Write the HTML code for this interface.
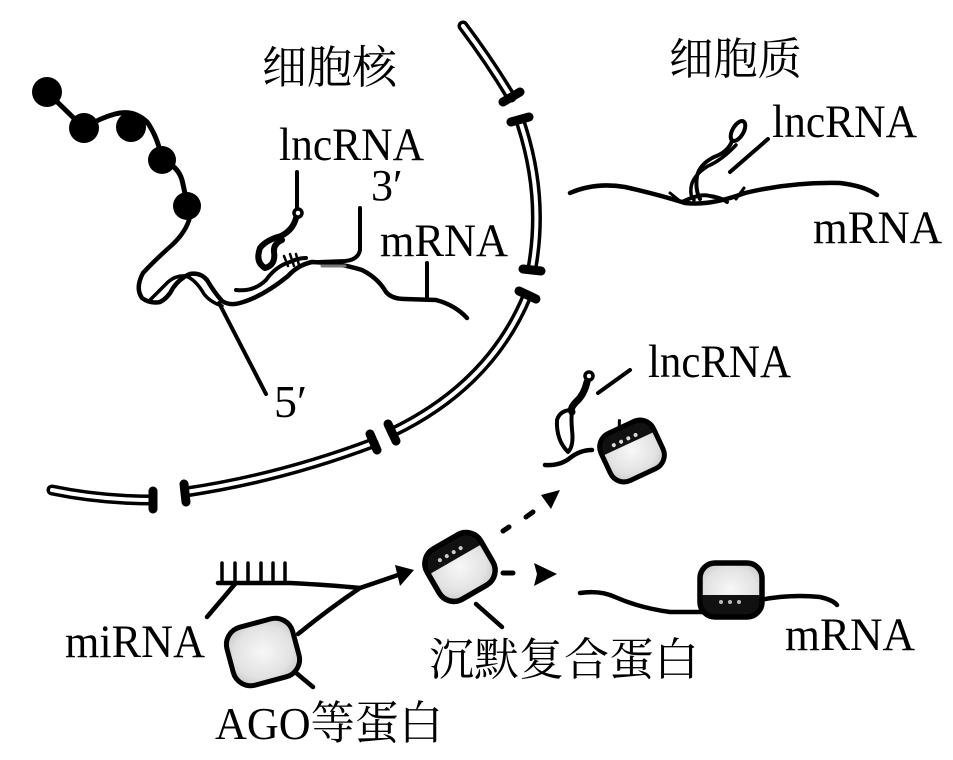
<!DOCTYPE html>
<html><head><meta charset="utf-8"><style>
html,body{margin:0;padding:0;background:#fff;}
svg{display:block;}
.lat{font-family:"Liberation Serif","Noto Serif CJK SC",serif;fill:#000;}
.cjk{font-family:"Noto Serif CJK SC","Liberation Serif","Noto Sans CJK SC",serif;fill:#000;}
.cjk2{font-family:"Liberation Serif","Noto Serif CJK SC","Noto Sans CJK SC",serif;fill:#000;}
</style></head><body>
<svg width="953" height="760" viewBox="0 0 953 760" xmlns="http://www.w3.org/2000/svg">
<defs>
<radialGradient id="g1" cx="50%" cy="50%" r="60%">
<stop offset="0" stop-color="#f7f7f7"/><stop offset="0.7" stop-color="#e2e2e2"/><stop offset="1" stop-color="#c9c9c9"/>
</radialGradient>
<clipPath id="cA"><rect x="-31" y="-29" width="62" height="58" rx="17"/></clipPath>
<clipPath id="cB"><rect x="-29" y="-26" width="58" height="52" rx="15"/></clipPath>
<clipPath id="cC"><rect x="-31" y="-27" width="62" height="54" rx="15"/></clipPath>
</defs>

<!-- Membrane tubes -->
<g fill="none" stroke-linecap="round">
  <g stroke="#000" stroke-width="11">
    <path d="M463,26 Q490,62 511,97"/>
    <path d="M520,121 Q545,195 532,268"/>
    <path d="M527,296 Q490,385 393,432"/>
    <path d="M373,443 Q280,478 186,492"/>
    <path d="M52,490 Q100,500 152,500"/>
  </g>
  <g stroke="#fff" stroke-width="4">
    <path d="M463,26 Q490,62 511,97"/>
    <path d="M520,121 Q545,195 532,268"/>
    <path d="M527,296 Q490,385 393,432"/>
    <path d="M373,443 Q280,478 186,492"/>
    <path d="M52,490 Q100,500 152,500"/>
  </g>
  <g stroke="#000" stroke-width="9">
    <line x1="503" y1="102" x2="520" y2="92"/>
    <line x1="511" y1="122" x2="529" y2="117"/>
    <line x1="523" y1="269" x2="541" y2="271"/>
    <line x1="519" y1="291" x2="536" y2="299"/>
    <line x1="388" y1="424" x2="396" y2="441"/>
    <line x1="370" y1="434" x2="377" y2="450"/>
    <line x1="184" y1="484" x2="186" y2="502"/>
    <line x1="153" y1="491" x2="153" y2="509"/>
  </g>
</g>

<!-- Chromatin beads -->
<g fill="#000">
  <circle cx="47" cy="92" r="15"/>
  <circle cx="84" cy="128" r="15"/>
  <circle cx="131" cy="127" r="15"/>
  <circle cx="162" cy="160" r="14"/>
  <circle cx="187" cy="206" r="14"/>
</g>
<g fill="none" stroke="#000" stroke-width="5" stroke-linecap="round" stroke-linejoin="round">
  <path d="M47,92 L84,128 Q100,118 115,114 Q133,109 147,122 Q158,137 162,160 Q178,166 182,180 Q185,192 187,206"/>
  <path d="M190,217 Q186,232 172,245 Q155,260 143,273 Q135,288 142,298 Q150,304 160,302 Q168,298 173,288 Q180,278 190,274 Q200,272 207,280 Q214,292 222,301 Q230,306 240,303 Q262,297 288,276 Q298,265 312,262 Q340,263 362,270 Q378,278 386,292 Q392,299 405,299 L436,300 Q455,305 467,318" stroke-width="4.5"/>
  <path d="M150,300 Q160,290 168,282 Q176,275 186,276 Q196,280 204,294 Q210,302 222,306" stroke-width="3.5"/>
  <!-- nucleus lncRNA -->
  <line x1="297" y1="172" x2="297" y2="208" stroke-width="4"/>
  <circle cx="298" cy="213" r="4" stroke-width="3.5"/>
  <path d="M296,218 Q293,230 281,236 Q266,240 260,248 Q255,262 265,268 Q276,265 274,252 Q273,244 282,240" stroke-width="6"/>
  <path d="M236,290 Q254,292 266,280 Q276,266 290,262 Q298,258 306,258" stroke-width="4"/>
  <path d="M284,256 L288,266 M290,254 L294,266 M296,254 L299,265" stroke-width="2.5"/>
  <!-- 3' bracket -->
  <path d="M360,208 L360,250 Q358,260 345,261 L318,262" stroke-width="4"/>
  <path d="M322,266 L345,266" stroke="#777" stroke-width="3"/>
  <line x1="427" y1="263" x2="427" y2="298" stroke-width="4"/>
  <line x1="219" y1="303" x2="266" y2="394" stroke-width="4"/>
</g>

<!-- Cytoplasm top-right -->
<g fill="none" stroke="#000" stroke-width="4.5" stroke-linecap="round" stroke-linejoin="round">
  <path d="M570,193 Q595,182 625,187 Q660,195 685,203 Q710,206 745,193 Q790,182 840,183 Q865,186 877,195"/>
  <ellipse cx="738" cy="131" rx="5.5" ry="11" transform="rotate(30 738 131)" stroke-width="4"/>
  <path d="M732,141 Q728,152 714,157 Q700,164 697,176 Q695,190 700,199" stroke-width="4"/>
  <path d="M736,145 Q722,160 708,166 Q692,176 691,188 Q690,196 694,200" stroke-width="3.5"/>
  <path d="M682,202 Q700,193 710,196 Q722,198 727,202" stroke-width="4"/>
  <path d="M670,193 L680,201 M744,188 L736,199" stroke-width="3"/>
  <line x1="730" y1="172" x2="768" y2="139" stroke-width="4"/>
</g>

<!-- Middle lncRNA with complex -->
<g fill="none" stroke="#000" stroke-width="4" stroke-linecap="round" stroke-linejoin="round">
  <circle cx="589" cy="376" r="4" stroke-width="3.5"/>
  <path d="M587,382 Q584,395 576,402 Q570,408 572,412" stroke-width="7"/>
  <path d="M572,410 Q560,410 557,420 Q556,440 568,452 Q574,446 572,430 Q571,418 572,410" stroke-width="4"/>
  <path d="M545,465 Q560,466 570,458 Q580,450 592,450" stroke-width="4.5"/>
  <line x1="598" y1="393" x2="630" y2="370"/>
</g>
<g transform="translate(632 451) rotate(-25)">
  <rect x="-29" y="-26" width="58" height="52" rx="15" fill="url(#g1)"/>
  <g clip-path="url(#cB)">
    <rect x="-30" y="-26" width="60" height="18" fill="#111"/>
    <circle cx="-14" cy="-13" r="2" fill="#ddd"/><circle cx="-6" cy="-13" r="2" fill="#ddd"/><circle cx="2" cy="-13" r="2" fill="#ddd"/><circle cx="10" cy="-13" r="2" fill="#ddd"/>
  </g>
  <rect x="-29" y="-26" width="58" height="52" rx="15" fill="none" stroke="#000" stroke-width="5"/>
  <path d="M-2,-26 L2,-34" stroke="#000" stroke-width="3"/>
</g>

<!-- Bottom: miRNA + AGO -->
<g fill="none" stroke="#000" stroke-width="4.5" stroke-linecap="round" stroke-linejoin="round">
  <path d="M218,583 L290,583 Q330,585 360,588"/>
  <path d="M222,583 V563 M235,583 V563 M248,583 V563 M261,583 V563 M273,583 V563 M285,583 V563" stroke-width="3.5"/>
  <line x1="207" y1="617" x2="235" y2="584"/>
  <path d="M298,634 Q330,608 360,588 L398,575"/>
  <line x1="295" y1="672" x2="313" y2="687"/>
  <line x1="476" y1="604" x2="502" y2="627"/>
</g>
<polygon points="414,570 395,565 400,586" fill="#000"/>

<g transform="translate(263 652) rotate(-15)">
  <rect x="-34" y="-30" width="68" height="60" rx="18" fill="url(#g1)" stroke="#000" stroke-width="5"/>
</g>

<!-- Silencing complex centre -->
<g transform="translate(460 567) rotate(-30)">
  <rect x="-31" y="-29" width="62" height="58" rx="17" fill="url(#g1)"/>
  <g clip-path="url(#cA)">
    <rect x="-32" y="-29" width="64" height="20" fill="#111"/>
    <circle cx="-14" cy="-16" r="2" fill="#ccc"/><circle cx="-6" cy="-16" r="2" fill="#ccc"/><circle cx="2" cy="-16" r="2" fill="#ccc"/><circle cx="10" cy="-16" r="2" fill="#ccc"/>
  </g>
  <rect x="-31" y="-29" width="62" height="58" rx="17" fill="none" stroke="#000" stroke-width="5.5"/>
</g>

<!-- dashed arrows -->
<g stroke="#000" stroke-width="5" stroke-linecap="round" fill="none">
  <line x1="503" y1="531" x2="509" y2="527"/>
  <line x1="526" y1="517" x2="533" y2="512"/>
  <line x1="503" y1="573" x2="513" y2="573"/>
</g>
<polygon points="560,490 541,495 551,509" fill="#000"/>
<polygon points="557,574 534,563 537,574 534,586" fill="#000"/>

<!-- Bottom-right mRNA with complex -->
<g fill="none" stroke="#000" stroke-width="4.5" stroke-linecap="round" stroke-linejoin="round">
  <path d="M580,593 Q600,590 615,597 Q640,608 670,612 L705,612 M760,600 Q790,594 820,597 Q833,600 837,605"/>
</g>
<g transform="translate(731 590)">
  <rect x="-31" y="-27" width="62" height="54" rx="15" fill="url(#g1)"/>
  <g clip-path="url(#cC)">
    <rect x="-32" y="5" width="64" height="23" fill="#111"/>
    <circle cx="-10" cy="12" r="2" fill="#bbb"/><circle cx="-1" cy="12" r="2" fill="#bbb"/><circle cx="8" cy="12" r="2" fill="#bbb"/>
  </g>
  <rect x="-31" y="-27" width="62" height="54" rx="15" fill="none" stroke="#000" stroke-width="5.5"/>
</g>

<!-- Labels -->
<text class="cjk" x="262" y="83" font-size="45" textLength="135" lengthAdjust="spacingAndGlyphs">细胞核</text>
<text class="cjk" x="669" y="74" font-size="44" textLength="133" lengthAdjust="spacingAndGlyphs">细胞质</text>
<text class="lat" x="279" y="160" font-size="47" textLength="145" lengthAdjust="spacingAndGlyphs">lncRNA</text>
<text class="lat" x="371" y="200" font-size="44">3′</text>
<text class="lat" x="380" y="256" font-size="47" textLength="128" lengthAdjust="spacingAndGlyphs">mRNA</text>
<text class="lat" x="274" y="417" font-size="46">5′</text>
<text class="lat" x="772" y="137" font-size="47" textLength="145" lengthAdjust="spacingAndGlyphs">lncRNA</text>
<text class="lat" x="813" y="243" font-size="47" textLength="129" lengthAdjust="spacingAndGlyphs">mRNA</text>
<text class="lat" x="648" y="377" font-size="47" textLength="143" lengthAdjust="spacingAndGlyphs">lncRNA</text>
<text class="lat" x="65" y="657" font-size="47" textLength="140" lengthAdjust="spacingAndGlyphs">miRNA</text>
<text class="lat" x="785" y="650" font-size="47" textLength="130" lengthAdjust="spacingAndGlyphs">mRNA</text>
<text class="cjk" x="429" y="675" font-size="45" textLength="270" lengthAdjust="spacingAndGlyphs">沉默复合蛋白</text>
<text class="cjk2" x="215" y="739" font-size="46" textLength="228" lengthAdjust="spacingAndGlyphs">AGO等蛋白</text>
</svg>
</body></html>
